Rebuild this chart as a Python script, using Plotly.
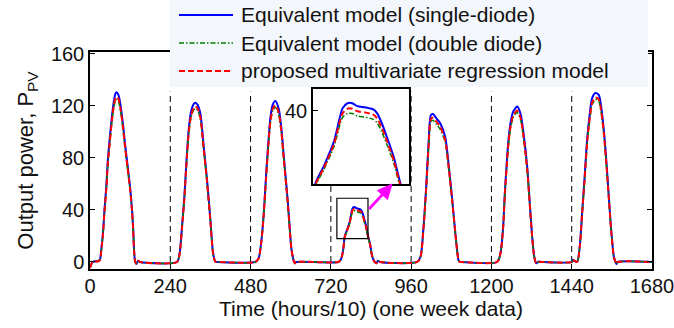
import plotly.graph_objects as go

# ---------------- data ----------------
t_day1 = [0, 8, 25, 30, 33, 39, 43, 49, 53, 59, 66, 71, 76, 79, 85, 91, 99, 105, 112, 120, 126, 129, 132, 135, 139, 144, 150]
t_day2 = [260, 268, 275, 282, 288, 295, 302, 310, 315, 322, 330, 340, 350, 360, 368, 375, 380]
t_day3 = [494, 504, 512, 519, 524, 529, 534, 539, 546, 554, 564, 572, 579, 586, 592, 597, 602, 609, 612, 616]
t_day4 = [742, 750, 756, 762, 768.5, 777, 784, 788, 792, 796, 802, 806, 809, 812, 816, 820, 825.5, 831, 837, 844, 851, 856, 861, 868]
t_day5 = [978, 988, 997, 1005, 1012, 1019, 1025, 1037, 1047, 1062, 1072, 1082, 1090, 1097, 1102, 1106, 1110]
t_day6 = [1217, 1227, 1235, 1240, 1245, 1250, 1257, 1265, 1277, 1287, 1296, 1307, 1314, 1321, 1328, 1334, 1341, 1350]
t_day7 = [1441, 1443, 1456, 1464, 1471, 1478, 1486, 1494, 1501, 1511, 1521, 1528, 1536, 1544, 1551, 1558, 1566, 1571, 1574, 1578, 1680]

single_day1 = [-4.5, 0, 0.8, 2, 8, 23, 39, 59, 77, 95, 113, 123, 129.5, 130.5, 128.5, 121, 105, 90, 75, 57, 39, 26, 8, 0.2, -1.5, 1, 0]
single_day2 = [0, 6.7, 27, 50, 76, 101.5, 115.5, 121.5, 122.5, 120.8, 114, 88.7, 63, 32, 6.7, 0, 0]
single_day3 = [0, 2.8, 15.6, 36, 56.7, 77, 95, 110.5, 120.8, 123.8, 118, 103, 82, 62, 44, 26, 10.5, 0.8, -1, 0]
single_day4 = [0, 2, 8, 20.2, 24.7, 31.6, 40.7, 42.1, 42.1, 41.3, 41.0, 40.7, 40.4, 39.4, 36.6, 32.9, 27.5, 20.2, 14, 4, 0, -1, 1, 0]
single_day5 = [0, 4, 27, 58, 91, 113, 113.8, 110, 106.7, 96, 75, 50, 28, 10, 1, 0, 0]
single_day6 = [0, 6.7, 27, 52.8, 73, 91, 106.7, 115.6, 119.5, 114, 99, 73, 47.7, 22, 4, -1, 0.2, 0]
single_day7 = [0, 1.5, 0, 11.8, 37.4, 63, 94, 114, 126, 130, 128.5, 119.5, 101.5, 76, 50, 24.6, 4, 0, -1.5, 0, 0]

double_day1 = [-4.5, 0, 1, 2, 6.5, 21.5, 37, 56.5, 74, 91, 108.5, 118, 124, 125, 123.5, 116.5, 101, 86.5, 72, 55, 37.5, 24.5, 7.5, 0, -1.5, 1, 0]
double_day2 = [0, 6.3, 25.5, 48, 73, 97.5, 111, 117, 118, 116.5, 109.5, 85.5, 60.5, 30.5, 6.3, 0, 0]
double_day3 = [0, 2.6, 14.8, 34.5, 54.5, 74, 91, 106, 116, 119, 113.5, 99, 79, 60, 42.5, 25, 10, 0.8, -1, 0]
double_day4 = [0, 1.9, 7.6, 19.4, 23.7, 30.2, 38.2, 39.3, 39.3, 38.6, 38.3, 38.0, 37.7, 36.8, 34.2, 30.8, 25.8, 19.0, 13.2, 3.8, 0, -1, 1, 0]
double_day5 = [0, 3.8, 25.5, 55.5, 87, 108, 109, 105.5, 102, 92, 72, 48, 27, 9.6, 1, 0, 0]
double_day6 = [0, 6.4, 26, 51, 70, 87.5, 102.5, 111, 115, 109.5, 95, 70.5, 46, 21.3, 3.9, -1, 0.2, 0]
double_day7 = [0, 1.5, 0, 11.3, 36, 60.5, 90, 109.5, 121, 125, 123.5, 115, 97.5, 73, 48, 23.7, 3.8, 0, -1.5, 0, 0]

proposed_day1 = [-4.5, 0, 0.6, 1.5, 7, 22, 37.5, 57, 75, 92, 110, 120, 126, 127, 125.5, 118, 102.5, 88, 73, 55.5, 38, 25, 7.5, 0, -1.5, 1, 0]
proposed_day2 = [0, 6.5, 26, 48.5, 74, 99, 112.5, 118.5, 119.5, 118, 111, 86.5, 61.5, 31, 6.5, 0, 0]
proposed_day3 = [0, 2.7, 15, 35, 55, 75, 92.5, 107.5, 117.5, 120.5, 115, 100.5, 80, 60.5, 43, 25.5, 10, 0.8, -1, 0]
proposed_day4 = [0, 2, 7.8, 19.8, 24.2, 30.9, 39.3, 40.6, 40.6, 39.9, 39.6, 39.3, 39.0, 38.0, 35.3, 31.8, 26.6, 19.6, 13.6, 3.9, 0, -1, 1, 0]
proposed_day5 = [0, 3.9, 26, 56.5, 88.5, 110, 111, 107.5, 104, 93.5, 73, 49, 27.5, 9.8, 1, 0, 0]
proposed_day6 = [0, 6.5, 26.3, 51.5, 71, 88.5, 104, 112.5, 116.5, 111, 96.5, 71, 46.5, 21.5, 3.9, -1, 0.2, 0]
proposed_day7 = [0, 1.5, 0, 11.5, 36.5, 61.5, 91.5, 111, 122.5, 126.5, 125, 116.5, 99, 74, 48.7, 24, 3.9, 0, -1.5, 0, 0]

time = t_day1 + t_day2 + t_day3 + t_day4 + t_day5 + t_day6 + t_day7
p_single = single_day1 + single_day2 + single_day3 + single_day4 + single_day5 + single_day6 + single_day7
p_double = double_day1 + double_day2 + double_day3 + double_day4 + double_day5 + double_day6 + double_day7
p_proposed = proposed_day1 + proposed_day2 + proposed_day3 + proposed_day4 + proposed_day5 + proposed_day6 + proposed_day7

day_boundaries = [240, 480, 720, 960, 1200, 1440]
boundary_top = 131
x_ticks = [0, 240, 480, 720, 960, 1200, 1440, 1680]
y_ticks = [0, 40, 80, 120, 160]

series_names = ["Equivalent model (single-diode)",
                "Equivalent model (double diode)",
                "proposed multivariate regression model"]

# zoom box on the main axes and inset ranges
zoom_box_x = [738, 831]
zoom_box_y = [18, 49]
inset_x_range = [760, 838]
inset_y_range = [20, 46]

# ---------------- figure ----------------
W, H = 674, 328
L, R, T, B = 90, 22, 52, 59
FONT = "Liberation Sans, Arial, sans-serif"
TXT = "#111111"

def px_x(p):  # pixel -> paper
    return (p - L) / (W - L - R)

def px_y(p):
    return (H - B - p) / (H - T - B)

styles = [
    dict(color="#0000ff", width=2, dash="solid"),
    dict(color="#008000", width=1.5, dash="5px,2px,1.5px,2px"),
    dict(color="#ff0000", width=2, dash="6px,3px"),
]
series = [p_single, p_double, p_proposed]

fig = go.Figure()

# day separators
bx, by = [], []
for d in day_boundaries:
    bx += [d, d, None]
    by += [0, boundary_top, None]
fig.add_trace(go.Scatter(x=bx, y=by, mode="lines", showlegend=False, hoverinfo="skip",
                         line=dict(color="black", width=1, dash="6px,4px")))

for name, ys, st in zip(series_names, series, styles):
    fig.add_trace(go.Scatter(x=time, y=ys, mode="lines", name=name, showlegend=False,
                             line=dict(color=st["color"], width=st["width"], dash=st["dash"],
                                       shape="spline", smoothing=0.7)))
for name, ys, st in zip(series_names, series, styles):
    fig.add_trace(go.Scatter(x=time, y=ys, mode="lines", name=name, showlegend=False,
                             xaxis="x2", yaxis="y2",
                             line=dict(color=st["color"], width=st["width"], dash=st["dash"],
                                       shape="spline", smoothing=0.7)))

axis_common = dict(showline=True, linecolor="black", linewidth=1.5, mirror="ticks",
                   ticks="inside", ticklen=5, tickcolor="black", showgrid=False,
                   zeroline=False, automargin=False, ticklabeloverflow="allow",
                   tickfont=dict(family=FONT, size=20, color=TXT))

fig.update_layout(
    width=W, height=H,
    margin=dict(l=L, r=R, t=T, b=B, pad=0, autoexpand=False),
    paper_bgcolor="white", plot_bgcolor="white",
    font=dict(family=FONT, size=20, color=TXT),
    xaxis=dict(range=[0, 1680], tickvals=x_ticks, domain=[0, 1], ticklabelstandoff=-2,
               title=dict(text="Time (hours/10) (one week data)", standoff=3,
                          font=dict(family=FONT, size=21, color=TXT)), **axis_common),
    yaxis=dict(range=[-5.4, 161.5], tickvals=y_ticks, domain=[0, 1],
               title=dict(text="Output power, P<sub>PV</sub>", standoff=11,
                          font=dict(family=FONT, size=22, color=TXT)), **axis_common),
    xaxis2=dict(range=inset_x_range, domain=[px_x(313), px_x(409)], anchor="y2",
                showline=True, linecolor="black", linewidth=1.5, mirror=True,
                showticklabels=False, ticks="", showgrid=False, zeroline=False),
    yaxis2=dict(range=inset_y_range, domain=[px_y(184), px_y(89)], anchor="x2",
                showline=True, linecolor="black", linewidth=1.5, mirror=True,
                tickvals=[40], ticks="inside", ticklen=5, tickcolor="black",
                showgrid=False, zeroline=False,
                tickfont=dict(family=FONT, size=20, color=TXT)),
)

# zoom rectangle on main axes
fig.add_shape(type="rect", xref="x", yref="y",
              x0=zoom_box_x[0], x1=zoom_box_x[1], y0=zoom_box_y[0], y1=zoom_box_y[1],
              line=dict(color="black", width=1.2), fillcolor="rgba(0,0,0,0)")

# magenta arrow pointing to the inset (drawn as shapes, pixel positions)
tail = (369, 209)
fig.add_shape(type="line", xref="paper", yref="paper", layer="above",
              x0=px_x(tail[0]), y0=px_y(tail[1]), x1=px_x(383), y1=px_y(194),
              line=dict(color="#ff00ff", width=2.6))
tri = [(392, 184), (377.5, 190.5), (387.5, 199.5)]
path = "M {} {} L {} {} L {} {} Z".format(px_x(tri[0][0]), px_y(tri[0][1]),
                                          px_x(tri[1][0]), px_y(tri[1][1]),
                                          px_x(tri[2][0]), px_y(tri[2][1]))
fig.add_shape(type="path", xref="paper", yref="paper", layer="above", path=path,
              fillcolor="#ff00ff", line=dict(color="#ff00ff", width=1))

# manual legend (box, line samples, labels)
fig.add_shape(type="rect", xref="paper", yref="paper", layer="above",
              x0=px_x(170), x1=px_x(648), y0=px_y(87), y1=px_y(0),
              line=dict(width=0), fillcolor="#f3f6fb")
row_y = [15, 43, 71]
for name, st, ry in zip(series_names, styles, row_y):
    fig.add_shape(type="line", xref="paper", yref="paper", layer="above",
                  x0=px_x(179), x1=px_x(233), y0=px_y(ry), y1=px_y(ry),
                  line=dict(color=st["color"], width=st["width"], dash=st["dash"]))
    fig.add_annotation(xref="paper", yref="paper", x=px_x(239), y=px_y(ry),
                       xanchor="left", yanchor="middle", text=name, showarrow=False,
                       font=dict(family=FONT, size=21, color=TXT))

fig.write_html("out.html")
